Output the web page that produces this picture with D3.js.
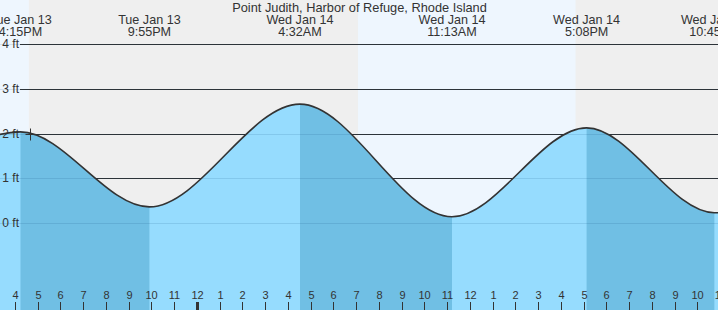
<!doctype html>
<html lang="en">
<head>
	<meta charset="utf-8">
	<title>Point Judith tides</title>
	<style>
html, body {
	margin: 0;
	padding: 0;
	background: #efefef;
	font-family: 'Liberation Sans', Arial, sans-serif;
}
svg text {
	fill: #333;
}
	</style>
</head>
<body>
	<div id="chart"></div>

	<script src="https://cdnjs.cloudflare.com/ajax/libs/d3/7.8.5/d3.min.js"></script>
	<script>
/* DATA */

var TITLE = 'Point Judith, Harbor of Refuge, Rhode Island';

// tide extremes [year, month, day, hour, minute], heights in ft
var tideTimes = [
	[2026, 0, 13, 10, 5],
	[2026, 0, 13, 16, 15],
	[2026, 0, 13, 21, 55],
	[2026, 0, 14, 4, 32],
	[2026, 0, 14, 11, 13],
	[2026, 0, 14, 17, 8],
	[2026, 0, 14, 22, 45],
	[2026, 0, 15, 5, 0]
];
var tideHeights = [0.2, 2.04, 0.36, 2.66, 0.14, 2.13, 0.23, 2.6];
var labelled = [1, 2, 3, 4, 5, 6];

// daylight periods
var dayStarts = [[2026, 0, 13, 7, 0], [2026, 0, 14, 7, 5]];
var dayEnds = [[2026, 0, 13, 16, 37], [2026, 0, 14, 16, 39]];

var yTicks = [0, 1, 2, 3, 4];
var nowTime = [2026, 0, 13, 16, 40];

/* SETUP */

var W = 718, H = 310;
var LIGHT = '#96dcfe', DARK = '#70bfe4';

var toDate = function (a) { return new Date(a[0], a[1], a[2], a[3], a[4]); };

var tides = tideTimes.map(function (t, i) {
	return { t: toDate(t), v: tideHeights[i] };
});

var x = d3.scaleTime()
	.domain([new Date(2026, 0, 13, 16, 0), new Date(2026, 0, 14, 22, 0)])
	.range([14.8, 14.8 + 30 * 22.75]);

var y = d3.scaleLinear()
	.domain([0, 4])
	.range([223, 44.3]);

var svg = d3.select('#chart').append('svg')
	.attr('width', W)
	.attr('height', H)
	.style('display', 'block');

/* BACKGROUND */

svg.append('rect').attr('width', W).attr('height', H).attr('fill', '#efefef');

svg.selectAll('rect.day')
	.data(dayStarts.map(function (d, i) { return [toDate(d), toDate(dayEnds[i])]; }))
	.enter().append('rect')
	.attr('class', 'day')
	.attr('x', function (d) { return x(d[0]); })
	.attr('width', function (d) { return x(d[1]) - x(d[0]); })
	.attr('y', 0)
	.attr('height', H)
	.attr('fill', '#eef6fe');

// grid lines behind the water
svg.selectAll('line.grid')
	.data(yTicks)
	.enter().append('line')
	.attr('x1', 20).attr('x2', W)
	.attr('y1', function (d) { return Math.round(y(d)) + 0.5; })
	.attr('y2', function (d) { return Math.round(y(d)) + 0.5; })
	.attr('stroke', '#333');

/* WATER */

var area = d3.area()
	.curve(d3.curveMonotoneX)
	.x(function (d) { return x(d.t); })
	.y0(H)
	.y1(function (d) { return y(d.v); });

var line = d3.line()
	.curve(d3.curveMonotoneX)
	.x(function (d) { return x(d.t); })
	.y(function (d) { return y(d.v); });

svg.append('path')
	.datum(tides)
	.attr('d', area)
	.attr('fill', LIGHT);

// falling tide is drawn darker
var falling = [];
for (var i = 0; i < tides.length - 1; i++) {
	if (tides[i].v > tides[i + 1].v) falling.push([tides[i].t, tides[i + 1].t]);
}

var defs = svg.append('defs');
falling.forEach(function (f, i) {
	defs.append('clipPath').attr('id', 'fall' + i)
		.append('rect')
		.attr('x', x(f[0])).attr('y', 0)
		.attr('width', x(f[1]) - x(f[0])).attr('height', H);
	svg.append('path')
		.datum(tides)
		.attr('d', area)
		.attr('fill', DARK)
		.attr('clip-path', 'url(#fall' + i + ')');
});

// grid lines showing through the water
svg.selectAll('line.gridw')
	.data(yTicks)
	.enter().append('line')
	.attr('x1', 0).attr('x2', W)
	.attr('y1', function (d) { return Math.round(y(d)) + 0.5; })
	.attr('y2', function (d) { return Math.round(y(d)) + 0.5; })
	.attr('stroke', 'rgba(0,60,110,0.12)');

svg.append('path')
	.datum(tides)
	.attr('d', line)
	.attr('fill', 'none')
	.attr('stroke', '#333')
	.attr('stroke-width', 1.6);

// current time marker
var nx = Math.round(x(toDate(nowTime))) + 0.5;
var ny = Math.round(y(2)) + 0.5;
svg.append('path')
	.attr('d', 'M' + (nx - 5) + ',' + ny + 'H' + (nx + 6) + 'M' + nx + ',' + (ny - 6) + 'V' + (ny + 6))
	.attr('stroke', '#333')
	.attr('fill', 'none');

/* TEXT */

svg.selectAll('text.ft')
	.data(yTicks)
	.enter().append('text')
	.attr('x', 19)
	.attr('y', function (d) { return y(d) + 4; })
	.attr('text-anchor', 'end')
	.style('font-size', '12px')
	.text(function (d) { return d + ' ft'; });

svg.append('text')
	.attr('x', 359.5)
	.attr('y', 12)
	.attr('text-anchor', 'middle')
	.style('font-size', '12.8px')
	.text(TITLE);

var fDay = d3.timeFormat('%a %b %-d');
var fTime = d3.timeFormat('%-I:%M%p');
var ext = svg.selectAll('g.ext')
	.data(labelled.map(function (i) { return tides[i]; }))
	.enter().append('g')
	.attr('transform', function (d) { return 'translate(' + x(d.t) + ',0)'; })
	.style('font-size', '12.6px')
	.attr('text-anchor', 'middle');
ext.append('text').attr('y', 24).text(function (d) { return fDay(d.t); });
ext.append('text').attr('y', 36).text(function (d) { return fTime(d.t); });

/* HOUR AXIS */

var hours = d3.timeHour.range(new Date(2026, 0, 13, 15, 0), new Date(2026, 0, 14, 23, 30));
var hg = svg.selectAll('g.hour')
	.data(hours)
	.enter().append('g')
	.attr('transform', function (d) { return 'translate(' + Math.round(x(d)) + ',0)'; });
hg.append('line')
	.attr('x1', 0.5).attr('x2', 0.5)
	.attr('y1', 302).attr('y2', H)
	.attr('stroke', '#333')
	.attr('stroke-width', function (d) { return d.getHours() === 0 ? 3 : 1; });
hg.append('text')
	.attr('x', 0.5)
	.attr('y', 299)
	.attr('text-anchor', 'middle')
	.style('font-size', '11px')
	.text(d3.timeFormat('%-I'));
	</script>
</body>
</html>
